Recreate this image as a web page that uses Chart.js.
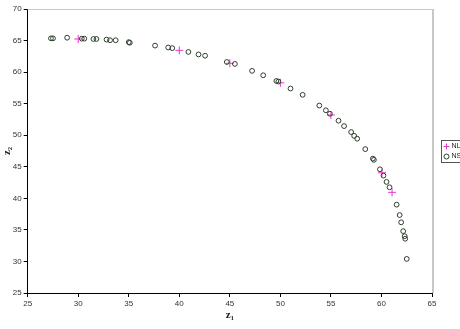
<!DOCTYPE html>
<html>
<head>
<meta charset="utf-8">
<script src="https://cdn.jsdelivr.net/npm/chart.js@4/dist/chart.umd.min.js"></script>
<style>
  html, body { margin: 0; padding: 0; background: #fff; }
  #wrap { width: 460px; height: 329px; position: relative; overflow: hidden; }
</style>
</head>
<body>
<div id="wrap"><canvas id="chart" width="460" height="329"></canvas></div>
<script>
// NL series (plus markers)
const nlX = [30, 40, 45, 50, 55, 60.05, 61.05];
const nlY = [65.25, 63.45, 61.4, 58.3, 53.2, 44.05, 40.95];

// NSGA-II series (open circles)
const nsX = [27.3, 27.5, 28.9, 30.35, 30.6, 31.5, 31.8, 32.8, 33.15, 33.7, 35.0, 35.1,
  37.6, 38.9, 39.3, 40.9, 41.9, 42.55, 44.7, 45.5, 47.2, 48.3, 49.6, 49.8, 51.0, 52.2,
  53.85, 54.5, 54.9, 55.75, 56.3, 57.0, 57.3, 57.6, 58.4, 59.15, 59.25, 59.85, 60.2,
  60.5, 60.8, 61.5, 61.8, 61.95, 62.15, 62.3, 62.35, 62.5];
const nsY = [65.35, 65.35, 65.45, 65.3, 65.3, 65.25, 65.25, 65.15, 65.05, 65.05, 64.75, 64.65,
  64.2, 63.9, 63.8, 63.2, 62.8, 62.6, 61.6, 61.3, 60.2, 59.5, 58.6, 58.5, 57.4, 56.4,
  54.7, 53.95, 53.4, 52.3, 51.45, 50.5, 49.9, 49.45, 47.8, 46.3, 46.1, 44.6, 43.6,
  42.6, 41.75, 39.0, 37.35, 36.2, 34.8, 34.0, 33.6, 30.4];

const seriesNames = ['NL', 'NSGA-II'];
const xTicks = [25, 30, 35, 40, 45, 50, 55, 60, 65];
const yTicks = [25, 30, 35, 40, 45, 50, 55, 60, 65, 70];

const nlColor = '#e838c8';
const nsColor = '#2c3f2c';

function toPoints(xs, ys) {
  return xs.map((x, i) => ({ x: x, y: ys[i] }));
}

// gray frame on top/right plus hand-drawn legend box
const framePlugin = {
  id: 'frame',
  beforeDatasetsDraw(chart) {
    const { ctx, chartArea: a } = chart;
    ctx.save();
    ctx.strokeStyle = '#c8c8c8';
    ctx.lineWidth = 1;
    ctx.beginPath();
    ctx.moveTo(a.left, a.top + 0.5);
    ctx.lineTo(a.right + 0.5, a.top + 0.5);
    ctx.stroke();
    ctx.lineWidth = 2;
    ctx.beginPath();
    ctx.moveTo(a.right + 1, a.top);
    ctx.lineTo(a.right + 1, a.bottom);
    ctx.stroke();
    ctx.restore();
  },
  afterDraw(chart) {
    const ctx = chart.ctx;
    const bx = 441.5, by = 140.5, bw = 30, bh = 22;
    ctx.save();
    ctx.fillStyle = '#fff';
    ctx.strokeStyle = '#555';
    ctx.lineWidth = 1;
    ctx.fillRect(bx, by, bw, bh);
    ctx.strokeRect(bx, by, bw, bh);
    // NL marker
    ctx.strokeStyle = nlColor;
    ctx.beginPath();
    ctx.moveTo(bx + 2, by + 6); ctx.lineTo(bx + 8, by + 6);
    ctx.moveTo(bx + 5, by + 3); ctx.lineTo(bx + 5, by + 9);
    ctx.stroke();
    // NS marker
    ctx.strokeStyle = nsColor;
    ctx.beginPath();
    ctx.arc(bx + 5, by + 16, 2.5, 0, Math.PI * 2);
    ctx.stroke();
    ctx.fillStyle = '#222';
    ctx.font = '7px "Liberation Sans", Arial, sans-serif';
    ctx.textBaseline = 'middle';
    ctx.fillText(seriesNames[0], bx + 10, by + 6);
    ctx.fillText(seriesNames[1], bx + 10, by + 16);
    ctx.restore();
  }
};

const tickFont = { family: '"Liberation Sans", Arial, sans-serif', size: 8 };
const titleFont = { family: '"Liberation Serif", "Times New Roman", serif', size: 11, weight: 'bold' };

new Chart(document.getElementById('chart'), {
  type: 'scatter',
  data: {
    datasets: [
      {
        label: seriesNames[1],
        data: toPoints(nsX, nsY),
        pointStyle: 'circle',
        pointRadius: 2.4,
        borderColor: nsColor,
        backgroundColor: 'rgba(0,0,0,0)',
        borderWidth: 1,
        order: 1
      },
      {
        label: seriesNames[0],
        data: toPoints(nlX, nlY),
        pointStyle: 'cross',
        pointRadius: 4,
        borderColor: nlColor,
        backgroundColor: nlColor,
        borderWidth: 1,
        order: 2
      }
    ]
  },
  options: {
    responsive: false,
    animation: false,
    layout: { padding: { top: 9, right: 28, left: 0, bottom: 0 } },
    plugins: {
      legend: { display: false },
      tooltip: { enabled: false }
    },
    scales: {
      x: {
        type: 'linear',
        min: 25, max: 65,
        afterBuildTicks: s => { s.ticks = xTicks.map(v => ({ value: v })); },
        afterFit: s => { s.height = 36; },
        grid: { display: true, drawOnChartArea: false, drawTicks: true, tickLength: 4, color: '#000' },
        border: { color: '#000', width: 1 },
        ticks: { color: '#333', font: tickFont, padding: 2, maxRotation: 0 },
        title: {
          display: true, text: 'z₁', color: '#222',
          font: titleFont,
          padding: { top: 0, bottom: 7 }
        }
      },
      y: {
        type: 'linear',
        min: 25, max: 70,
        afterBuildTicks: s => { s.ticks = yTicks.map(v => ({ value: v })); },
        afterFit: s => { s.width = 27.7; },
        grid: { display: true, drawOnChartArea: false, drawTicks: true, tickLength: 4, color: '#000' },
        border: { color: '#000', width: 1 },
        ticks: { color: '#333', font: tickFont, padding: 2 },
        title: {
          display: true, text: 'z₂', color: '#222',
          font: titleFont,
          padding: { top: 1, bottom: 0 }
        }
      }
    }
  },
  plugins: [framePlugin]
});
</script>
</body>
</html>
